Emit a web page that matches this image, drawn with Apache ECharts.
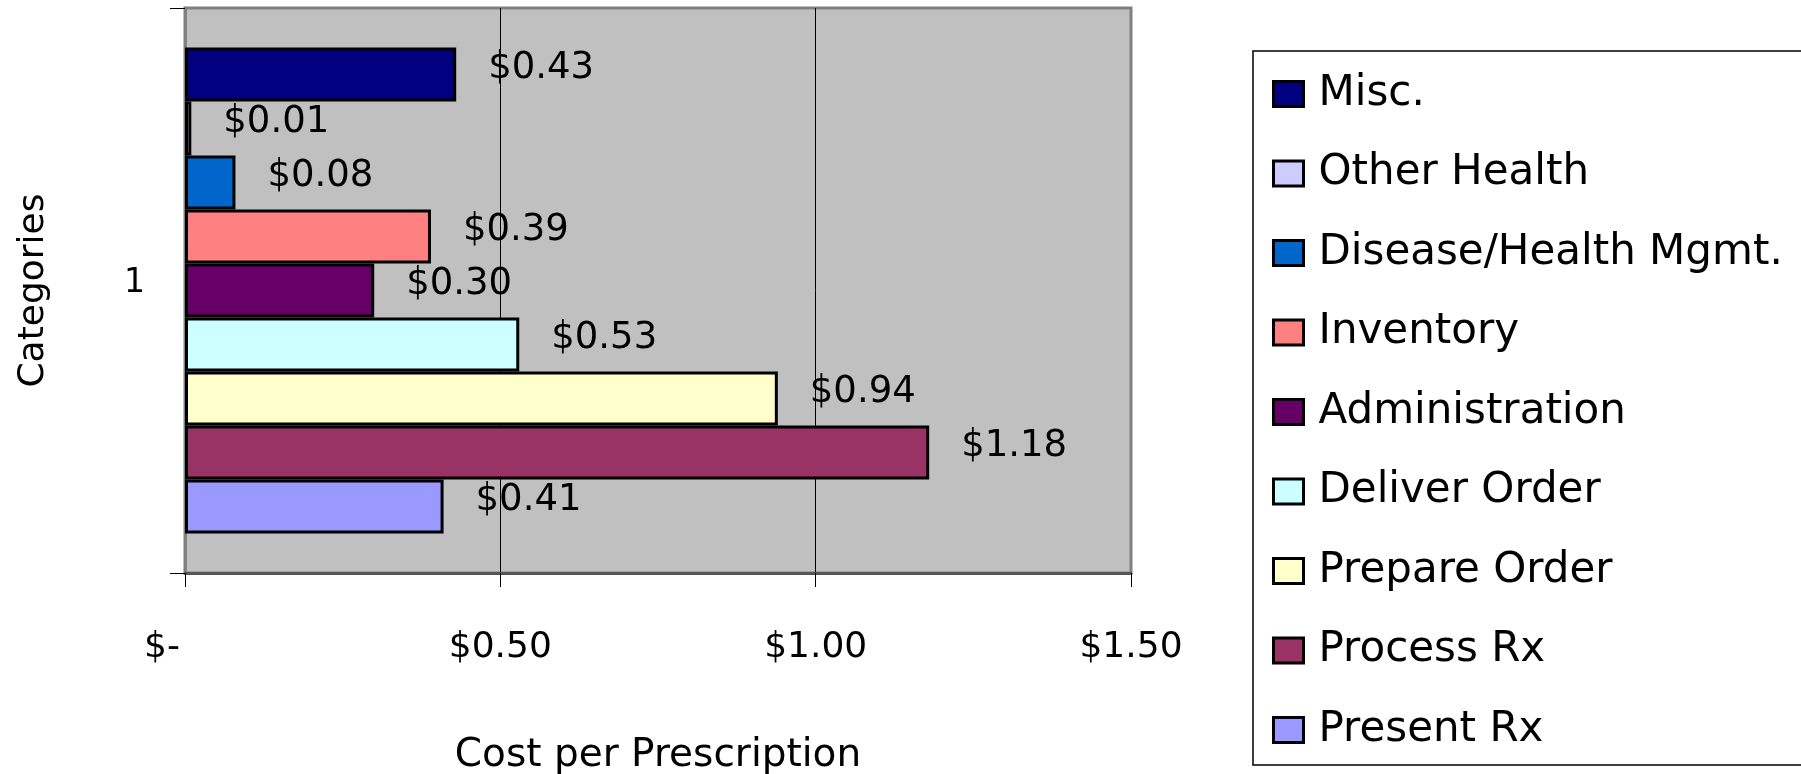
<!DOCTYPE html>
<html>
<head>
<meta charset="utf-8">
<script src="https://cdn.jsdelivr.net/npm/echarts@6/dist/echarts.min.js"></script>
<style>
  html, body { margin: 0; padding: 0; background: #fff; }
  #chart { width: 1801px; height: 774px; }
</style>
</head>
<body>
<div id="chart"></div>
<script>
// data
const categories = ['1'];
const seriesNames = ['Misc.', 'Other Health', 'Disease/Health Mgmt.', 'Inventory',
    'Administration', 'Deliver Order', 'Prepare Order', 'Process Rx', 'Present Rx'];
const seriesValues = [0.43, 0.01, 0.08, 0.39, 0.30, 0.53, 0.94, 1.18, 0.41];
const seriesColors = ['#000080', '#CCCCFF', '#0066CC', '#FF8080', '#660066',
    '#CCFFFF', '#FFFFCC', '#993366', '#9999FF'];
const xTickLabels = ['$-', '$0.50', '$1.00', '$1.50'];

const FONT = 'DejaVu Sans';

const chart = echarts.init(document.getElementById('chart'));

const series = seriesNames.map(function (name, i) {
    return {
        name: name,
        type: 'bar',
        barGap: '0%',
        barCategoryGap: '14%',
        data: [seriesValues[i]],
        itemStyle: {
            color: seriesColors[i],
            borderColor: '#000',
            borderWidth: 3
        },
        label: {
            show: true,
            position: 'right',
            distance: 32,
            offset: [0, -6],
            fontFamily: FONT,
            fontSize: 37,
            color: '#000',
            formatter: function (p) {
                return '$' + p.value.toFixed(2);
            }
        },
        emphasis: { disabled: true }
    };
});

const option = {
    backgroundColor: '#fff',
    animation: false,
    textStyle: { fontFamily: FONT, color: '#000' },
    grid: {
        left: 185,
        top: 8,
        right: 670,
        bottom: 201,
        outerBoundsMode: 'none',
        show: true,
        backgroundColor: '#C0C0C0',
        borderColor: '#808080',
        borderWidth: 3
    },
    legend: {
        orient: 'vertical',
        left: 1253,
        top: 51,
        padding: [22, 28, 14, 19],
        itemWidth: 30,
        itemHeight: 25,
        itemGap: 37.5,
        icon: 'rect',
        backgroundColor: '#fff',
        borderColor: '#000',
        borderWidth: 1.5,
        selectedMode: false,
        data: seriesNames,
        itemStyle: { borderColor: '#000', borderWidth: 3 },
        textStyle: {
            fontFamily: FONT,
            fontSize: 42,
            color: '#000',
            padding: [0, 0, 0, 10]
        }
    },
    xAxis: {
        type: 'value',
        min: 0,
        max: 1.5,
        interval: 0.5,
        name: 'Cost per Prescription',
        nameLocation: 'middle',
        nameGap: 163,
        nameTextStyle: { fontFamily: FONT, fontSize: 39, color: '#000' },
        axisLine: { show: true, lineStyle: { color: '#555', width: 3 } },
        axisTick: { show: true, length: 14, lineStyle: { color: '#000', width: 1 } },
        axisLabel: {
            margin: 57,
            fontFamily: FONT,
            fontSize: 36,
            color: '#000',
            formatter: function (v, idx) {
                return idx === 0 ? '{z|' + xTickLabels[0] + '}' : xTickLabels[idx];
            },
            rich: {
                z: { fontFamily: FONT, fontSize: 36, color: '#000', padding: [0, 46, 0, 0] }
            }
        },
        splitLine: {
            show: true,
            showMinLine: false,
            showMaxLine: false,
            lineStyle: { color: '#000', width: 1 }
        }
    },
    yAxis: {
        type: 'category',
        data: categories,
        name: 'Categories',
        nameLocation: 'middle',
        nameGap: 133,
        nameTextStyle: { fontFamily: FONT, fontSize: 36, color: '#000' },
        axisLine: { show: true, lineStyle: { color: '#808080', width: 3 } },
        axisTick: { show: true, length: 15, lineStyle: { color: '#000', width: 1 } },
        axisLabel: {
            margin: 40,
            fontFamily: FONT,
            fontSize: 33,
            color: '#000',
            formatter: '{a|{value}}',
            rich: {
                a: { fontFamily: FONT, fontSize: 33, color: '#000', padding: [0, 0, 15, 0] }
            }
        },
        splitLine: { show: false }
    },
    series: series
};

chart.setOption(option);
</script>
</body>
</html>
